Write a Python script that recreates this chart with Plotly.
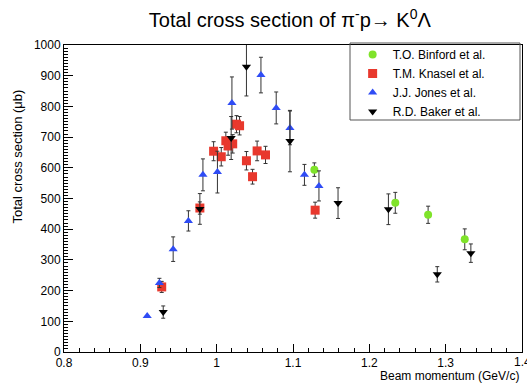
import plotly.graph_objects as go

# ---- data ----
binford_x = [1.128, 1.234, 1.277, 1.325]
binford_y = [594, 486, 447, 367]
binford_err = [22, 34, 28, 34]

knasel_x = [0.928, 0.978, 0.996, 1.006, 1.012, 1.015, 1.021, 1.026, 1.030, 1.039, 1.047, 1.053, 1.064, 1.129]
knasel_y = [212, 469, 654, 636, 688, 671, 678, 742, 737, 623, 571, 655, 642, 462]
knasel_err = [18, 20, 31, 30, 28, 30, 30, 28, 30, 30, 24, 32, 28, 26]

jones_x = [0.909, 0.925, 0.943, 0.963, 0.982, 1.001, 1.020, 1.058, 1.078, 1.096, 1.115, 1.134]
jones_y = [117, 225, 335, 427, 577, 586, 811, 902, 795, 730, 577, 541]
jones_err = [0, 15, 40, 33, 52, 68, 85, 58, 52, 55, 34, 49]

baker_x = [0.930, 0.978, 1.019, 1.039, 1.096, 1.159, 1.225, 1.289, 1.333]
baker_y = [130, 466, 697, 929, 687, 485, 465, 253, 322]
baker_err = [20, 50, 70, 95, 100, 50, 50, 25, 30]

x_last_tick = 1.4

series = [
    ("T.O. Binford et al.", binford_x, binford_y, binford_err, "circle", "#7fe32a", 8),
    ("T.M. Knasel et al.", knasel_x, knasel_y, knasel_err, "square", "#e8382d", 9),
    ("J.J. Jones et al.", jones_x, jones_y, jones_err, "triangle-up", "#2f4cf5", 8),
    ("R.D. Baker et al.", baker_x, baker_y, baker_err, "triangle-down", "#000000", 8),
]

FONT = "Liberation Sans, Arial, Helvetica, sans-serif"
W, H = 527, 383
ML, MR, MT, MB = 64, 5, 45, 31
PW, PH = W - ML - MR, H - MT - MB


def px_x(p):
    return (p - ML) / PW


def px_y(p):
    return (H - MB - p) / PH


fig = go.Figure()
for name, xs, ys, es, sym, col, sz in series:
    fig.add_trace(go.Scatter(
        x=xs, y=ys, mode="markers", name=name,
        marker=dict(symbol=sym, color=col, size=sz, line=dict(width=0)),
        error_y=dict(type="data", array=es, visible=True, color="#333333",
                     thickness=1, width=2),
    ))

fig.update_layout(
    width=W, height=H,
    margin=dict(l=ML, r=MR, t=MT, b=MB, autoexpand=False),
    paper_bgcolor="white", plot_bgcolor="white",
    font=dict(family=FONT, size=12, color="black"),
    showlegend=True,
    legend=dict(
        xref="container", yref="container",
        x=350 / W + 0.005, y=1 - 40 / H, xanchor="left", yanchor="top",
        borderwidth=0, bgcolor="rgba(0,0,0,0)",
        font=dict(family=FONT, size=12), tracegroupgap=0,
        itemwidth=30,
    ),
    title=dict(
        text="Total cross section of π<sup>-</sup>p→ K<sup>0</sup>Λ",
        x=0.55, xanchor="center", y=0.948, yanchor="middle",
        font=dict(family=FONT, size=20),
    ),
)

fig.add_shape(type="rect", xref="paper", yref="paper",
              x0=px_x(350), x1=px_x(520), y0=px_y(120), y1=px_y(43),
              line=dict(color="#555555", width=1), fillcolor="rgba(0,0,0,0)",
              layer="above")

fig.update_xaxes(
    range=[0.8, 1.4], tick0=0.8, dtick=0.1,
    ticks="inside", ticklen=8, tickcolor="black",
    showline=True, linecolor="black", linewidth=1, mirror=True,
    showgrid=False, zeroline=False,
    tickfont=dict(family=FONT, size=12),
    minor=dict(ticks="inside", dtick=0.02, ticklen=4, tickcolor="black", showgrid=False),
)
fig.update_yaxes(
    range=[0, 1000], tick0=0, dtick=100,
    ticks="inside", ticklen=9, tickcolor="black",
    showline=True, linecolor="black", linewidth=1, mirror=True,
    showgrid=False, zeroline=False,
    tickfont=dict(family=FONT, size=12),
    minor=dict(ticks="inside", dtick=10, ticklen=4, tickcolor="black", showgrid=False),
)

# last x tick label, partly clipped by the right edge as in the reference
fig.add_annotation(
    text=f"{x_last_tick:g}", xref="x", yref="paper",
    x=x_last_tick, y=0, xanchor="center", yanchor="top", yshift=-1,
    showarrow=False, font=dict(family=FONT, size=12),
)
fig.add_annotation(
    text="Beam momentum (GeV/c)", xref="paper", yref="paper",
    x=px_x(521), y=0, xanchor="right", yanchor="top", yshift=-15,
    showarrow=False, font=dict(family=FONT, size=12),
)
fig.add_annotation(
    text="Total cross section (μb)", xref="paper", yref="paper",
    x=0, y=px_y(157), xanchor="left", yanchor="middle", xshift=-57,
    textangle=-90, showarrow=False, font=dict(family=FONT, size=13),
)

fig.write_html("out.html",
               config={"displayModeBar": False},
               post_script="document.body.style.margin='0px';document.body.style.padding='0px';")
